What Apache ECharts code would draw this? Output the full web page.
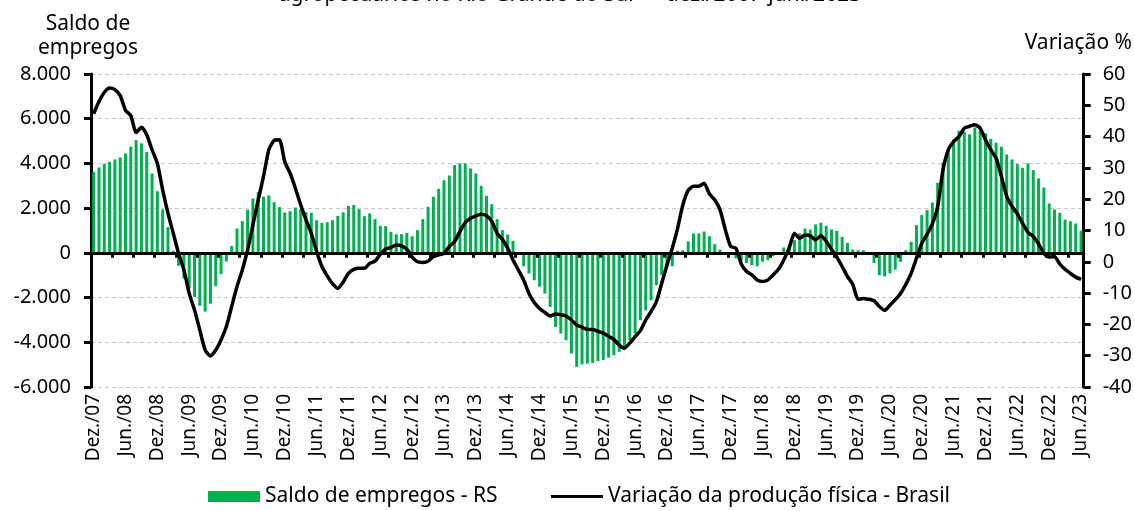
<!DOCTYPE html>
<html>
<head>
<meta charset="utf-8">
<script src="https://cdn.jsdelivr.net/npm/echarts@6/dist/echarts.min.js"></script>
<style>
  html, body { margin: 0; padding: 0; background: #fff; }
  #chart { width: 1135px; height: 511px; }
</style>
</head>
<body>
<div id="chart"></div>
<script>
// Monthly series, Dez./2007 to Jun./2023
const monthNames = ['Jan.', 'Fev.', 'Mar.', 'Abr.', 'Mai.', 'Jun.', 'Jul.', 'Ago.', 'Set.', 'Out.', 'Nov.', 'Dez.'];
const startYear = 2007, startMonth = 11, monthCount = 187;

const categories = [];
for (let k = 0; k < monthCount; k++) {
  const m = (startMonth + k) % 12;
  const y = startYear + Math.floor((startMonth + k) / 12);
  categories.push(monthNames[m] + '/' + String(y % 100).padStart(2, '0'));
}

// Saldo de empregos - RS (left axis)
const saldoEmpregos = [
  3630, 3820, 3985, 4075, 4180, 4270, 4450, 4750, 5045, 4900,
  4510, 3550, 2760, 1940, 1150, 90, -580, -1150, -1600, -1970,
  -2370, -2630, -2270, -1490, -955, -390, 310, 1090, 1420, 1925,
  2430, 2720, 2510, 2570, 2270, 2045, 1805, 1865, 2030, 1940,
  1820, 1790, 1460, 1340, 1370, 1460, 1650, 1810, 2100, 2140,
  1955, 1640, 1760, 1510, 1210, 1195, 940, 835, 835, 895,
  745, 1015, 1510, 2060, 2510, 2865, 3250, 3460, 3925, 4000,
  4000, 3775, 3550, 3000, 2550, 2180, 1510, 1015, 820, 540,
  -30, -600, -925, -1225, -1520, -1820, -2420, -3315, -3610, -3910,
  -4505, -5105, -4985, -4955, -4925, -4835, -4790, -4685, -4580, -4430,
  -4210, -3910, -3610, -3015, -2570, -2120, -1450, -1000, -630, -600,
  90, 120, 510, 870, 870, 955, 745, 390, 150, -50,
  -100, -250, -330, -450, -550, -600, -400, -330, -150, -80,
  240, 270, 570, 870, 1090, 1045, 1270, 1340, 1210, 1045,
  985, 715, 450, 150, 120, 120, 20, -450, -1000, -1050,
  -920, -750, -400, 120, 495, 1240, 1690, 1910, 2250, 3135,
  4030, 4600, 5075, 5460, 5420, 5300, 5610, 5460, 5345, 5100,
  4925, 4745, 4400, 4180, 3970, 3805, 4000, 3700, 3330, 2925,
  2210, 1940, 1790, 1490, 1420, 1315, 985
];

// Variação da produção física - Brasil, % (right axis)
const variacaoProducao = [
  47.3, 51.2, 54.1, 55.5, 55.0, 53.1, 48.4, 46.7, 41.3, 43.0,
  40.6, 35.8, 31.5, 23.0, 15.5, 9.1, 2.7, -2.6, -10.1, -15.4,
  -21.8, -28.2, -30.1, -28.2, -25.0, -20.7, -14.3, -7.9, -2.6, 3.8,
  11.8, 19.8, 27.3, 35.8, 38.8, 39.0, 32.0, 28.3, 23.5, 18.2,
  13.4, 9.1, 3.3, -1.5, -4.5, -7.0, -8.5, -6.5, -3.7, -2.4,
  -2.1, -2.1, -0.5, 0.2, 2.4, 4.1, 4.6, 5.4, 5.1, 4.0,
  1.5, 0.0, -0.2, 0.2, 1.7, 2.2, 2.7, 4.9, 6.5, 9.7,
  12.5, 13.9, 14.7, 15.2, 14.7, 12.9, 9.1, 7.2, 4.3, 0.6,
  -2.6, -5.8, -10.1, -13.0, -14.9, -16.2, -17.3, -16.7, -16.9, -17.3,
  -18.6, -20.2, -20.9, -21.6, -21.6, -22.2, -22.8, -23.8, -24.8, -26.6,
  -27.6, -26.0, -23.9, -22.0, -18.6, -15.9, -12.8, -6.9, -1.0, 4.3,
  10.7, 18.2, 22.8, 24.1, 24.1, 25.1, 21.7, 19.8, 16.6, 10.2,
  4.9, 4.3, -0.7, -3.1, -4.2, -5.8, -6.3, -5.8, -4.2, -2.4,
  0.6, 4.3, 9.1, 7.5, 8.6, 8.3, 7.0, 8.4, 6.5, 4.0,
  1.5, -1.5, -4.7, -7.2, -12.0, -11.7, -12.0, -12.4, -14.3, -15.5,
  -13.9, -12.1, -10.1, -7.2, -3.7, 1.1, 5.9, 8.8, 12.1, 17.7,
  29.4, 35.8, 38.4, 40.0, 42.7, 43.3, 43.8, 42.7, 39.0, 35.8,
  33.1, 27.3, 20.9, 17.7, 15.3, 12.3, 9.4, 8.1, 5.7, 2.7,
  1.5, 1.7, -0.7, -2.4, -3.7, -4.9, -5.6
];

const leftTicks = { min: -6000, max: 8000, interval: 2000 };
const rightTicks = { min: -40, max: 60, interval: 10 };

const FONT = 'Noto Sans';
const TEXT_FONT = '21px "Noto Sans"';
const chart = echarts.init(document.getElementById('chart'), null, { renderer: 'canvas' });

function thousands(v) {
  const s = Math.abs(v).toString().replace(/\B(?=(\d{3})+(?!\d))/g, '.');
  return (v < 0 ? '-' : '') + s;
}

chart.setOption({
  animation: false,
  backgroundColor: '#ffffff',
  textStyle: { fontFamily: FONT, color: '#000' },
  grid: { left: 91, right: 49, top: 74, bottom: 124, containLabel: false },
  graphic: [
    {
      type: 'text', x: 570, y: -5,
      style: { text: 'agropecuários no Rio Grande do Sul — dez./2007-jun./2023', font: TEXT_FONT, fill: '#000', align: 'center', verticalAlign: 'middle' }
    },
    {
      type: 'text', x: 88, y: 24,
      style: { text: 'Saldo de', font: TEXT_FONT, fill: '#000', align: 'center', verticalAlign: 'middle' }
    },
    {
      type: 'text', x: 88, y: 48,
      style: { text: 'empregos', font: TEXT_FONT, fill: '#000', align: 'center', verticalAlign: 'middle' }
    },
    {
      type: 'text', x: 1132, y: 43,
      style: { text: 'Variação %', font: TEXT_FONT, fill: '#000', align: 'right', verticalAlign: 'middle' }
    }
  ],
  legend: {
    top: 486,
    left: 208,
    padding: 0,
    itemWidth: 52,
    itemHeight: 11,
    itemGap: 52,
    textStyle: { fontFamily: FONT, fontSize: 21, color: '#000' },
    lineStyle: { width: 3 },
    data: [
      { name: 'Saldo de empregos - RS', icon: 'rect' },
      { name: 'Variação da produção física - Brasil', itemStyle: { opacity: 0 } }
    ]
  },
  xAxis: [
    {
      type: 'category',
      data: categories,
      boundaryGap: true,
      z: 5,
      axisLine: { onZero: true, onZeroAxisIndex: 0, lineStyle: { color: '#000', width: 3 } },
      axisTick: { show: true, interval: 3, length: 5, lineStyle: { color: '#000', width: 3 } },
      axisLabel: { show: false },
      splitLine: { show: false }
    },
    {
      type: 'category',
      data: categories,
      position: 'bottom',
      boundaryGap: true,
      axisLine: { show: false, onZero: false },
      axisTick: { show: false },
      axisLabel: {
        interval: 5,
        rotate: 90,
        margin: 7,
        fontFamily: FONT,
        fontSize: 19,
        color: '#000'
      },
      splitLine: { show: false }
    }
  ],
  yAxis: [
    {
      type: 'value',
      min: leftTicks.min, max: leftTicks.max, interval: leftTicks.interval,
      position: 'left',
      axisLine: { show: true, lineStyle: { color: '#000', width: 3 } },
      axisTick: { show: true, length: 7, lineStyle: { color: '#000', width: 3 } },
      axisLabel: { formatter: thousands, fontFamily: FONT, fontSize: 20, color: '#000', margin: 20 },
      splitLine: { show: true, lineStyle: { color: '#c8c8c8', type: [4, 3], width: 1 } }
    },
    {
      type: 'value',
      min: rightTicks.min, max: rightTicks.max, interval: rightTicks.interval,
      position: 'right',
      axisLine: { show: true, lineStyle: { color: '#000', width: 3 } },
      axisTick: { show: true, length: 7, lineStyle: { color: '#000', width: 3 } },
      axisLabel: { fontFamily: FONT, fontSize: 20, color: '#000', margin: 19 },
      splitLine: { show: false }
    }
  ],
  series: [
    {
      name: 'Saldo de empregos - RS',
      type: 'bar',
      xAxisIndex: 0,
      yAxisIndex: 0,
      data: saldoEmpregos,
      barWidth: 3,
      itemStyle: { color: '#00B050' }
    },
    {
      name: 'Variação da produção física - Brasil',
      type: 'line',
      xAxisIndex: 0,
      yAxisIndex: 1,
      data: variacaoProducao,
      symbol: 'none',
      smooth: 0.2,
      lineStyle: { color: '#000', width: 3.5, join: 'round' },
      itemStyle: { color: '#000' },
      z: 4
    }
  ]
});
</script>
</body>
</html>
